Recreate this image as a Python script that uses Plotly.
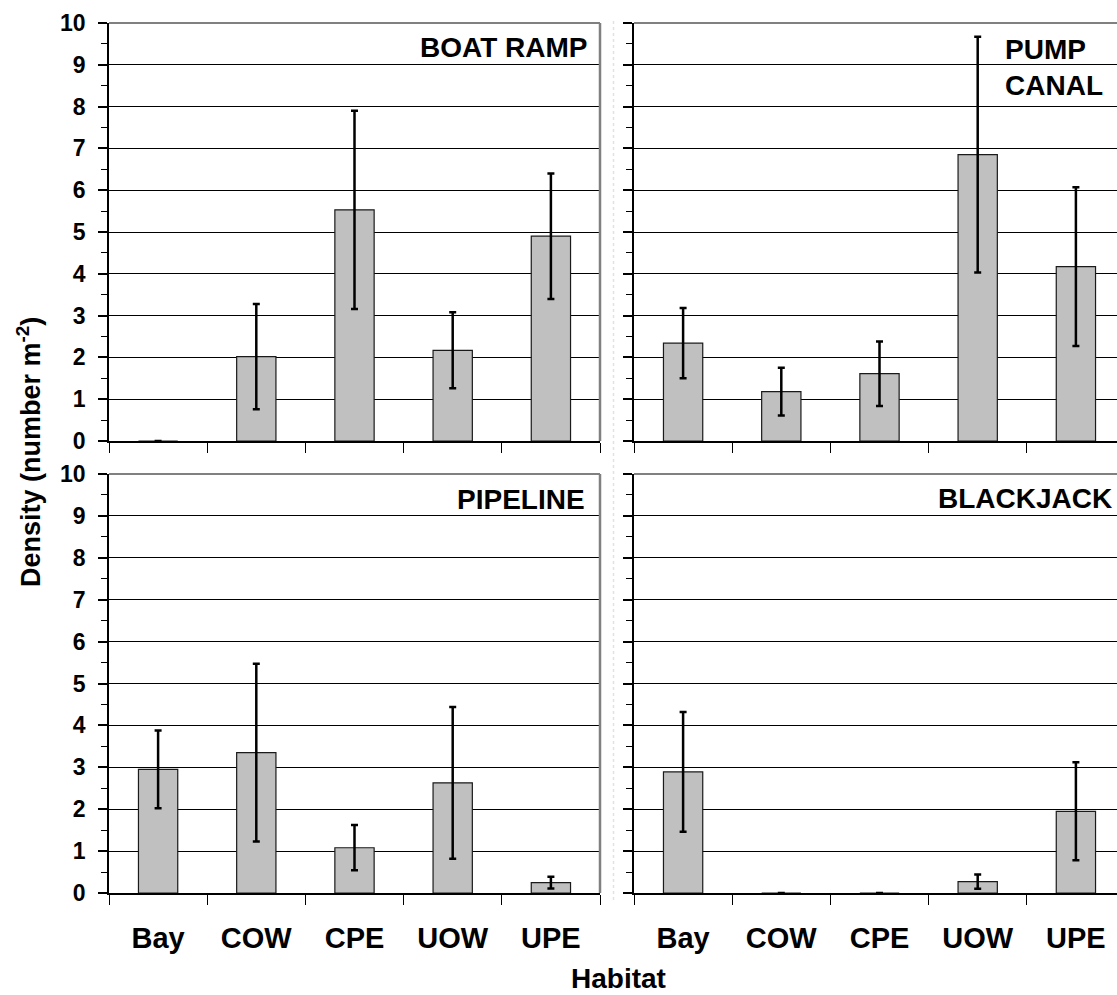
import plotly.graph_objects as go

# Habitat categories on the x axis
habitats = ["Bay", "COW", "CPE", "UOW", "UPE"]

# Mean density (number per m^2) and error (+/-) for each site
boat_ramp = [0.0, 2.02, 5.53, 2.17, 4.90]
boat_ramp_err = [0.0, 1.26, 2.37, 0.91, 1.50]

pump_canal = [2.34, 1.18, 1.61, 6.85, 4.17]
pump_canal_err = [0.84, 0.57, 0.77, 2.82, 1.90]

pipeline = [2.95, 3.35, 1.08, 2.63, 0.25]
pipeline_err = [0.93, 2.12, 0.54, 1.81, 0.14]

blackjack = [2.89, 0.0, 0.0, 0.27, 1.95]
blackjack_err = [1.43, 0.0, 0.0, 0.17, 1.17]

site_names = ["BOAT RAMP", "PUMP<br>CANAL", "PIPELINE", "BLACKJACK"]
y_ticks = list(range(0, 11))

W, H = 1117, 995
FONT = "Liberation Sans, Arial, sans-serif"


def fx(p):
    return p / W


def fy(p):
    return 1 - p / H


# panel geometry in pixels: (left, right, top, bottom)
left_dom = [fx(109), fx(600)]
right_dom = [fx(634), 1.0]
top_dom = [fy(441), fy(23)]
bot_dom = [fy(893), fy(474)]
cat_step = (1125 - 634) / 5.0
right_range = [-0.5, 4.5 - (1125 - W) / cat_step]

panels = [
    (boat_ramp, boat_ramp_err, left_dom, top_dom, [-0.5, 4.5], True, False),
    (pump_canal, pump_canal_err, right_dom, top_dom, right_range, False, False),
    (pipeline, pipeline_err, left_dom, bot_dom, [-0.5, 4.5], True, True),
    (blackjack, blackjack_err, right_dom, bot_dom, right_range, False, True),
]

fig = go.Figure()
layout = {}
shapes = []

for i, (vals, errs, xd, yd, xr, ylabels, xlabels) in enumerate(panels):
    sfx = "" if i == 0 else str(i + 1)
    fig.add_trace(go.Bar(
        x=habitats, y=vals, width=0.4,
        marker=dict(color="#C0C0C0", line=dict(color="#1a1a1a", width=1.2)),
        error_y=dict(type="data", array=errs, visible=True,
                     color="black", thickness=2.5, width=3.5),
        xaxis="x" + sfx, yaxis="y" + sfx, showlegend=False,
    ))
    layout["xaxis" + sfx] = dict(
        domain=xd, anchor="y" + sfx, type="category", range=xr,
        automargin=False,
        tickson="boundaries", ticks="outside", ticklen=10, tickwidth=1,
        tickcolor="black", showline=True, linecolor="black", linewidth=1.5,
        showgrid=False, showticklabels=xlabels, ticklabelstandoff=18,
        tickfont=dict(family=FONT, size=29, color="black", weight="bold"),
    )
    layout["yaxis" + sfx] = dict(
        domain=yd, anchor="x" + sfx, range=[0, 10], tickvals=y_ticks,
        automargin=False,
        ticks="outside", ticklen=9, tickwidth=1.5, tickcolor="black",
        showline=True, linecolor="black", linewidth=1.5,
        showgrid=True, gridcolor="black", gridwidth=1, zeroline=False,
        showticklabels=ylabels, ticklabelstandoff=8,
        tickfont=dict(family=FONT, size=23, color="black", weight="bold"),
        minor=dict(dtick=0.5, ticks="outside", ticklen=6, tickwidth=1,
                   tickcolor="black", showgrid=False),
    )
    # grey plot-area frame along the top (and right side where visible)
    shapes.append(dict(type="line", xref="x" + sfx + " domain", yref="y" + sfx + " domain",
                       x0=0, x1=1, y0=1, y1=1, line=dict(color="#808080", width=2)))
    if xd[1] < 1.0:
        shapes.append(dict(type="line", xref="x" + sfx + " domain", yref="y" + sfx + " domain",
                           x0=1, x1=1, y0=0, y1=1, line=dict(color="#808080", width=2.5)))

# faint dotted separator between the left and right columns
shapes.append(dict(type="line", xref="paper", yref="paper", x0=fx(613.5), x1=fx(613.5),
                   y0=fy(900), y1=fy(20), line=dict(color="#e2e2e2", width=1.5, dash="dot")))

label_font = dict(family=FONT, size=28, color="black", weight="bold")
annotations = [
    dict(text=site_names[0], x=fx(589), y=fy(48), xanchor="right", yanchor="middle",
         xref="paper", yref="paper", showarrow=False, font=label_font),
    dict(text=site_names[1], x=fx(1003), y=fy(67), xanchor="left", yanchor="middle",
         align="left", xref="paper", yref="paper", showarrow=False, font=label_font),
    dict(text=site_names[2], x=fx(587), y=fy(500), xanchor="right", yanchor="middle",
         xref="paper", yref="paper", showarrow=False, font=label_font),
    dict(text=site_names[3], x=fx(936), y=fy(498), xanchor="left", yanchor="middle",
         xref="paper", yref="paper", showarrow=False, font=label_font),
    dict(text="Density (number m<sup>-2</sup>)", x=fx(29), y=fy(452), textangle=-90,
         xanchor="center", yanchor="middle", xref="paper", yref="paper",
         showarrow=False, font=dict(family=FONT, size=27, color="black", weight="bold")),
    dict(text="Habitat", x=fx(618), y=0, xanchor="center", yanchor="bottom",
         borderpad=0, xref="paper", yref="paper", showarrow=False, font=label_font),
]

fig.update_layout(
    width=W, height=H, margin=dict(l=0, r=0, t=0, b=0, autoexpand=False),
    paper_bgcolor="white", plot_bgcolor="white",
    bargap=0.6, shapes=shapes, annotations=annotations,
    **layout,
)

fig.write_html("out.html")
